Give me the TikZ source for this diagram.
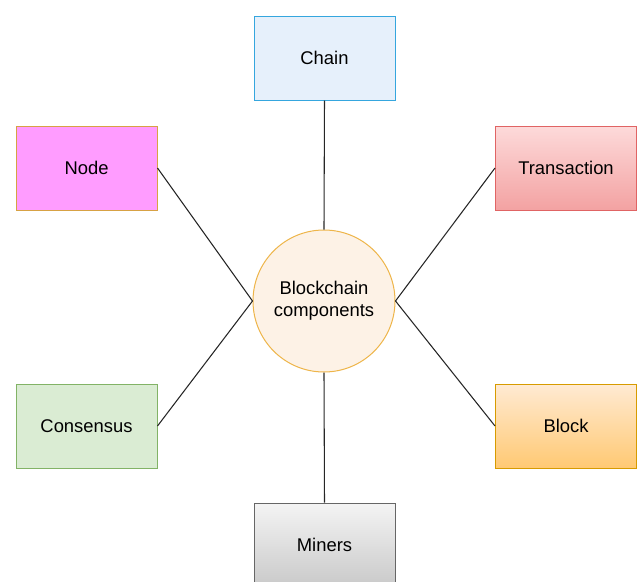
\documentclass[tikz,border=0pt]{standalone}
\usepackage{fontspec}
\setmainfont{Liberation Sans}
\usepackage{xcolor}
\usepackage{tikz}

\definecolor{chainfill}{HTML}{E6F0FB}
\definecolor{chainline}{HTML}{35A6DE}
\definecolor{nodefill}{HTML}{FF9CFF}
\definecolor{nodeline}{HTML}{D7A244}
\definecolor{txtop}{HTML}{FDDADA}
\definecolor{txbottom}{HTML}{F3A2A2}
\definecolor{txline}{HTML}{E06464}
\definecolor{consfill}{HTML}{DAECD3}
\definecolor{consline}{HTML}{82B366}
\definecolor{blocktop}{HTML}{FFEAD3}
\definecolor{blockbottom}{HTML}{FFC973}
\definecolor{blockline}{HTML}{D79B00}
\definecolor{minertop}{HTML}{F4F4F4}
\definecolor{minerbottom}{HTML}{C9C9C9}
\definecolor{minerline}{HTML}{666666}
\definecolor{hubfill}{HTML}{FDF2E6}
\definecolor{hubline}{HTML}{EEB54A}

\begin{document}
\begin{tikzpicture}[x=0.75pt,y=-0.75pt,
    every node/.style={font=\fontsize{13.8}{16.5}\selectfont},
    part/.style={draw,line width=0.75pt,minimum width=105.75pt,minimum height=63pt,inner sep=0pt},
    hub/.style={circle,draw=hubline,fill=hubfill,line width=0.75pt,minimum size=106.5pt,inner sep=0pt,align=center},
    link/.style={draw=black!85,line width=0.8pt}]
\clip (0,0) rectangle (637,582);
\node[hub] (hub) at (324,301) {Blockchain\\components};
\node[part,draw=chainline,fill=chainfill] (chain) at (324.5,58) {Chain};
\node[part,draw=nodeline,fill=nodefill] (node) at (86.5,168) {Node};
\node[part,draw=txline,top color=txtop,bottom color=txbottom] (tx) at (566,168) {Transaction};
\node[part,draw=consline,fill=consfill] (cons) at (86.5,426) {Consensus};
\node[part,draw=blockline,top color=blocktop,bottom color=blockbottom] (block) at (566,426) {Block};
\node[part,draw=minerline,top color=minertop,bottom color=minerbottom] (miners) at (324.5,545) {Miners};
\draw[link] (chain.south) -- (hub.north);
\draw[link] (node.east) -- (hub.west);
\draw[link] (tx.west) -- (hub.east);
\draw[link] (cons.east) -- (hub.west);
\draw[link] (block.west) -- (hub.east);
\draw[link] (miners.north) -- (hub.south);
\end{tikzpicture}
\end{document}
